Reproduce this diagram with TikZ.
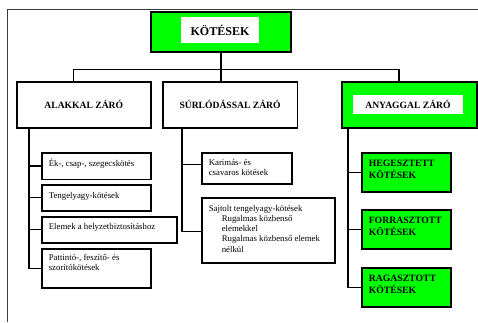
\documentclass[tikz,border=0pt]{standalone}
\usepackage{fontspec}
\setmainfont{Liberation Serif}
\definecolor{vgreen}{RGB}{0,255,0}
\definecolor{framegray}{RGB}{60,60,60}
\newcommand{\boxtxt}[4]{\parbox[c][#2][t]{#1}{\raggedright\rule{0pt}{#3}#4}}
\tikzset{
  hdr/.style={draw, line width=1.6pt, anchor=north west, inner sep=0pt, font=\bfseries\fontsize{9.6}{11}\selectfont},
  sbox/.style={draw, line width=1.6pt, anchor=north west, inner xsep=7pt, inner ysep=0pt, font=\fontsize{8.8}{10.2}\selectfont},
  gbox/.style={draw, fill=vgreen, line width=1.6pt, anchor=north west, inner xsep=7pt, inner ysep=0pt, font=\bfseries\fontsize{9.7}{12}\selectfont},
  whitein/.style={fill=white, inner sep=0pt},
  conn/.style={line width=1.3pt}
}
\begin{document}
\begin{tikzpicture}[x=1pt, y=-1pt]
\useasboundingbox (0,0) rectangle (478,322);
% outer frame
\draw[framegray, line width=1pt] (7,322) -- (7,9.5) -- (478,9.5);

% top
\node[draw, fill=vgreen, line width=1.8pt, minimum width=140pt, minimum height=40pt, anchor=north west, inner sep=0pt] (kot) at (150,11) {};
\node[whitein, minimum width=78pt, minimum height=26pt, font=\bfseries\fontsize{12}{14}\selectfont] (kottxt) at (220,30) {KÖTÉSEK};

% headers
\node[hdr, minimum width=134pt, minimum height=46pt] (alak) at (16,81) {ALAKKAL ZÁRÓ};
\node[hdr, minimum width=134.5pt, minimum height=46pt] (sur) at (162,81) {SÚRLÓDÁSSAL ZÁRÓ};
\node[hdr, fill=vgreen, minimum width=135pt, minimum height=46pt] (any) at (341,81) {};
\node[whitein, minimum width=110pt, minimum height=19pt, font=\bfseries\fontsize{9.6}{11}\selectfont] (anytxt) at (408,104.5) {ANYAGGAL ZÁRÓ};

% left column
\node[sbox] (b1) at (41,152) {\boxtxt{95pt}{26.5pt}{13.5pt}{Ék-, csap-, szegecskötés}};
\node[sbox] (b2) at (41,184) {\boxtxt{95pt}{26pt}{13.5pt}{Tengelyagy-kötések}};
\node[sbox] (b3) at (41,216) {\boxtxt{121pt}{26pt}{13pt}{Elemek a helyzetbiztosításhoz}};
\node[sbox] (b4) at (41,248) {\boxtxt{95pt}{39pt}{11.5pt}{Pattintó-, feszítő- és\\szorítókötések}};

% middle column
\node[sbox] (m1) at (201,152) {\boxtxt{76pt}{31pt}{12.5pt}{Karimás- és\\csavaros kötések}};
\node[sbox] (m2) at (201,197) {\boxtxt{119pt}{65pt}{13.5pt}{Sajtolt tengelyagy-kötések\\\hspace*{13pt}Rugalmas közbenső\\\hspace*{13pt}elemekkel\\\hspace*{13pt}Rugalmas közbenső elemek\\\hspace*{13pt}nélkül}};

% right column
\node[gbox] (r1) at (361,152) {\boxtxt{75pt}{39pt}{13.5pt}{HEGESZTETT\\KÖTÉSEK}};
\node[gbox] (r2) at (361,209) {\boxtxt{75pt}{39pt}{13.5pt}{FORRASZTOTT\\KÖTÉSEK}};
\node[gbox] (r3) at (361,267) {\boxtxt{75pt}{39pt}{13.5pt}{RAGASZTOTT\\KÖTÉSEK}};

% connectors top
\coordinate (busl) at (73.3,69.5);
\coordinate (busr) at (399,69.5);
\draw[conn] (kot.south) -- (kot.south |- sur.north);
\draw[conn] (busl |- alak.north) -- (busl) -- (busr) -- (busr |- any.north);

% branch lines
\coordinate (lx) at (29,0);
\coordinate (mx) at (182,0);
\coordinate (rx) at (348,0);
\draw[conn] (lx |- alak.south) |- (b4.west);
\draw[conn] (lx |- b1.west) -- (b1.west);
\draw[conn] (lx |- b2.west) -- (b2.west);
\draw[conn] (lx |- b3.west) -- (b3.west);

\draw[conn] (mx |- sur.south) |- ([yshift=-1pt]m2.west);
\draw[conn] (mx |- m1.west) ++(0,-3.5) -- ([yshift=3.5pt]m1.west);

\draw[conn] (rx |- any.south) |- (r3.west);
\draw[conn] (rx |- r1.west) -- (r1.west);
\draw[conn] (rx |- r2.west) -- (r2.west);
\end{tikzpicture}
\end{document}
